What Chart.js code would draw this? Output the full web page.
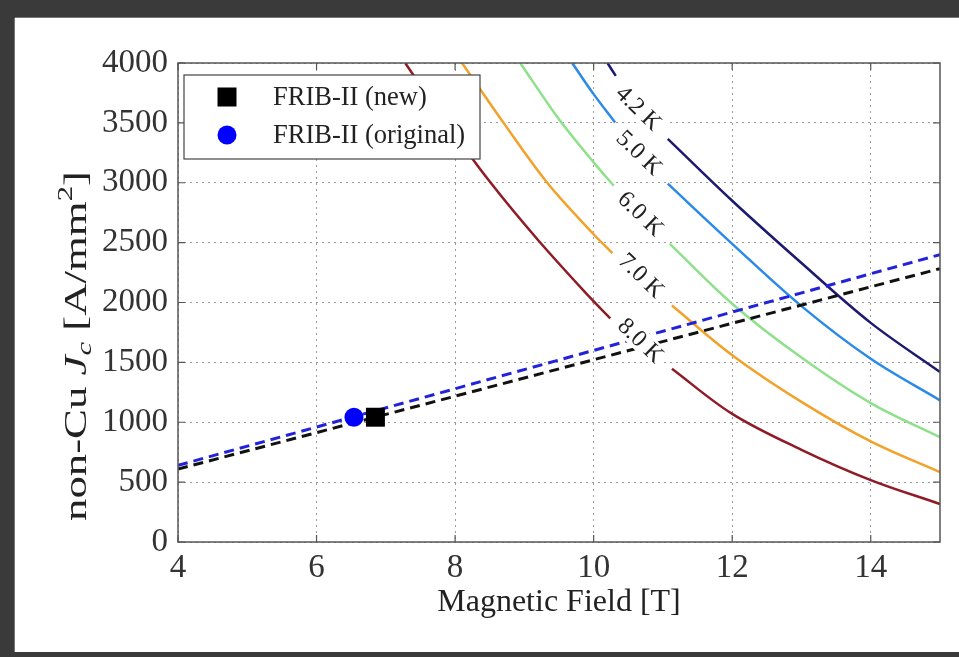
<!DOCTYPE html>
<html>
<head>
<meta charset="utf-8">
<script src="https://cdn.jsdelivr.net/npm/chart.js@4.4.1/dist/chart.umd.min.js"></script>
<style>
  html { scrollbar-width: none; color-scheme: light; }
  html, body { margin: 0; padding: 0; background: #fff; overflow: hidden; }
  ::-webkit-scrollbar { display: none; width: 0; height: 0; }
  #jcChart { position: fixed; left: 0; top: 0; display: block; }
</style>
</head>
<body>
<canvas id="jcChart" width="959" height="657"></canvas>
<script>
// Jc(B) curves, field in T, Jc in A/mm2.
// a null in Jc leaves the gap where the inline temperature label sits
const field42 = [10.20, 10.32, 10.70, 11.07, 12, 13, 14, 15];
const jc42    = [4000, 3892, null, 3367, 2850, 2330, 1830, 1420];

const field50 = [9.69, 10.00, 10.31, 10.70, 11.07, 12, 13, 14, 15];
const jc50    = [4000, 3740, 3503, null, 2992, 2490, 1970, 1530, 1183];

const field60 = [8.94, 9.50, 10.00, 10.29, 10.70, 11.10, 12, 13, 14, 15];
const jc60    = [4000, 3530, 3170, 2975, null, 2490, 1990, 1540, 1160, 875];

const field70 = [8.10, 8.70, 9.33, 10.00, 10.27, 10.70, 11.13, 12, 13, 14, 15];
const jc70    = [4000, 3500, 3000, 2570, 2412, null, 1975, 1560, 1170, 840, 583];

const field80 = [7.28, 7.80, 8.50, 9.20, 9.95, 10.24, 10.70, 11.13, 12, 13, 14, 15];
const jc80    = [4000, 3560, 3010, 2520, 2040, 1867, null, 1447, 1070, 770, 517, 317];

// load lines of the two magnet designs
const loadField = [4, 15];
const loadNewJc = [609, 2283];
const loadOrigJc = [640, 2400];

// operating points
const newField = [6.85];
const newJc = [1042];
const origField = [6.54];
const origJc = [1042];

const tempNames = ['4.2 K', '5.0 K', '6.0 K', '7.0 K', '8.0 K'];
const xTitle = 'Magnetic Field [T]';

const SERIF = 'Liberation Serif';

function pts(xs, ys) {
    return xs.map((x, i) => ({ x: x, y: ys[i] }));
}

function curve(xs, ys, color) {
    return {
        type: 'line',
        data: pts(xs, ys),
        borderColor: color,
        borderWidth: 2.5,
        pointRadius: 0,
        fill: false,
        spanGaps: false,
        tension: 0.35,
        order: 3
    };
}

// where the inline labels sit on the curves (data units) and their angle
const labelAnchorB = [10.65, 10.66, 10.68, 10.69, 10.68];
const labelAnchorJ = [3625, 3250, 2742, 2225, 1683];
const labelAngle = 44 * Math.PI / 180;

const figurePlugin = {
    id: 'figurePlugin',
    beforeDraw(chart) {
        const ctx = chart.ctx;
        const W = 959, H = 657;
        ctx.save();
        ctx.fillStyle = '#fff';
        ctx.fillRect(0, 0, W, H);
        // dark screenshot frame (top, left, bottom)
        ctx.fillStyle = '#3a3a3a';
        ctx.fillRect(0, 0, W, 18);
        ctx.fillRect(0, 0, 15, H);
        ctx.fillRect(0, 652, W, 5);
        ctx.fillStyle = '#777';
        ctx.fillRect(15, 17, W - 15, 1);
        ctx.fillRect(14, 18, 1, 634);
        ctx.restore();
    },
    afterDatasetsDraw(chart) {
        const ctx = chart.ctx;
        const a = chart.chartArea;
        const sx = chart.scales.x, sy = chart.scales.y;
        ctx.save();

        // inline curve labels, on a white patch like contour labels
        ctx.font = '24px "' + SERIF + '"';
        ctx.textAlign = 'center';
        ctx.textBaseline = 'middle';
        tempNames.forEach((name, i) => {
            const w = ctx.measureText(name).width;
            ctx.save();
            ctx.translate(sx.getPixelForValue(labelAnchorB[i]), sy.getPixelForValue(labelAnchorJ[i]));
            ctx.rotate(labelAngle);
            ctx.fillStyle = '#fff';
            ctx.fillRect(-w / 2 - 4, -11, w + 8, 22);
            ctx.fillStyle = '#222';
            ctx.fillText(name, 0, 1);
            ctx.restore();
        });

        // plot frame
        ctx.strokeStyle = '#555';
        ctx.lineWidth = 1.5;
        ctx.strokeRect(a.left, a.top, a.right - a.left, a.bottom - a.top);

        // inward ticks on all sides
        ctx.lineWidth = 1.2;
        sx.ticks.forEach(t => {
            const px = sx.getPixelForValue(t.value);
            ctx.beginPath();
            ctx.moveTo(px, a.bottom); ctx.lineTo(px, a.bottom - 7);
            ctx.moveTo(px, a.top); ctx.lineTo(px, a.top + 7);
            ctx.stroke();
        });
        sy.ticks.forEach(t => {
            const py = sy.getPixelForValue(t.value);
            ctx.beginPath();
            ctx.moveTo(a.left, py); ctx.lineTo(a.left + 7, py);
            ctx.moveTo(a.right, py); ctx.lineTo(a.right - 7, py);
            ctx.stroke();
        });

        // legend box
        const lx = 184, ly = 75, lw = 296, lh = 84;
        ctx.fillStyle = '#fff';
        ctx.fillRect(lx, ly, lw, lh);
        ctx.strokeStyle = '#444';
        ctx.lineWidth = 1.2;
        ctx.strokeRect(lx, ly, lw, lh);
        ctx.fillStyle = '#000';
        ctx.fillRect(227 - 9.5, 97 - 9.5, 19, 19);
        ctx.fillStyle = '#0000ff';
        ctx.beginPath();
        ctx.arc(227, 135, 9.5, 0, Math.PI * 2);
        ctx.fill();
        ctx.fillStyle = '#222';
        ctx.font = '26.5px "' + SERIF + '"';
        ctx.textAlign = 'left';
        ctx.fillText('FRIB-II (new)', 273, 98);
        ctx.fillText('FRIB-II (original)', 273, 136);

        // x title
        ctx.font = '32px "' + SERIF + '"';
        ctx.textAlign = 'center';
        ctx.fillText(xTitle, (a.left + a.right) / 2, 603);

        // y title with italic J_c and mm^2, stretched along its length like the original
        const parts = [
            { t: 'non-Cu ', f: '32px "' + SERIF + '"', dy: 0 },
            { t: 'J', f: 'italic 32px "' + SERIF + '"', dy: 0 },
            { t: 'c', f: 'italic 22px "' + SERIF + '"', dy: 7 },
            { t: ' [A/mm', f: '32px "' + SERIF + '"', dy: 0 },
            { t: '2', f: '22px "' + SERIF + '"', dy: -12 },
            { t: ']', f: '32px "' + SERIF + '"', dy: 0 }
        ];
        let total = 0;
        parts.forEach(p => { ctx.font = p.f; p.w = ctx.measureText(p.t).width; total += p.w; });
        ctx.translate(78, 346);
        ctx.rotate(-Math.PI / 2);
        ctx.scale(350 / total, 1);
        ctx.textAlign = 'left';
        let cx = -total / 2;
        parts.forEach(p => {
            ctx.font = p.f;
            ctx.fillText(p.t, cx, p.dy);
            cx += p.w;
        });
        ctx.restore();
    }
};

const ctx = document.getElementById('jcChart').getContext('2d');
new Chart(ctx, {
    type: 'line',
    data: {
        datasets: [
            {
                type: 'scatter', data: pts(newField, newJc),
                pointStyle: 'rect', pointRadius: 13.4, backgroundColor: '#000', borderWidth: 0, order: 1
            },
            {
                type: 'scatter', data: pts(origField, origJc),
                pointStyle: 'circle', pointRadius: 9.5, backgroundColor: '#0000ff', borderWidth: 0, order: 1
            },
            {
                type: 'line', data: pts(loadField, loadOrigJc),
                borderColor: '#2222d8', borderWidth: 3, borderDash: [10, 6], pointRadius: 0, fill: false, order: 2
            },
            {
                type: 'line', data: pts(loadField, loadNewJc),
                borderColor: '#111', borderWidth: 3, borderDash: [10, 6], pointRadius: 0, fill: false, order: 2
            },
            curve(field42, jc42, '#1c1a6e'),
            curve(field50, jc50, '#2b8ae8'),
            curve(field60, jc60, '#8ee08a'),
            curve(field70, jc70, '#f2a12a'),
            curve(field80, jc80, '#8e1b25')
        ]
    },
    options: {
        responsive: false,
        animation: false,
        devicePixelRatio: 1,
        layout: { padding: { top: 63, right: 19, left: 0, bottom: 0 } },
        plugins: {
            legend: { display: false },
            tooltip: { enabled: false }
        },
        scales: {
            x: {
                type: 'linear',
                min: 4,
                max: 15,
                ticks: {
                    stepSize: 2,
                    includeBounds: false,
                    padding: 7,
                    maxRotation: 0,
                    color: '#333',
                    font: { family: SERIF, size: 33 }
                },
                grid: { color: '#9c9c9c', lineWidth: 1, drawTicks: false },
                border: { display: false, dash: [2, 4] },
                afterFit: s => { s.height = 115; }
            },
            y: {
                min: 0,
                max: 4000,
                ticks: {
                    stepSize: 500,
                    padding: 10,
                    color: '#333',
                    font: { family: SERIF, size: 33 },
                    callback: v => String(v)
                },
                grid: { color: '#9c9c9c', lineWidth: 1, drawTicks: false },
                border: { display: false, dash: [2, 4] },
                afterFit: s => { s.width = 178; }
            }
        }
    },
    plugins: [figurePlugin]
});
</script>
</body>
</html>
